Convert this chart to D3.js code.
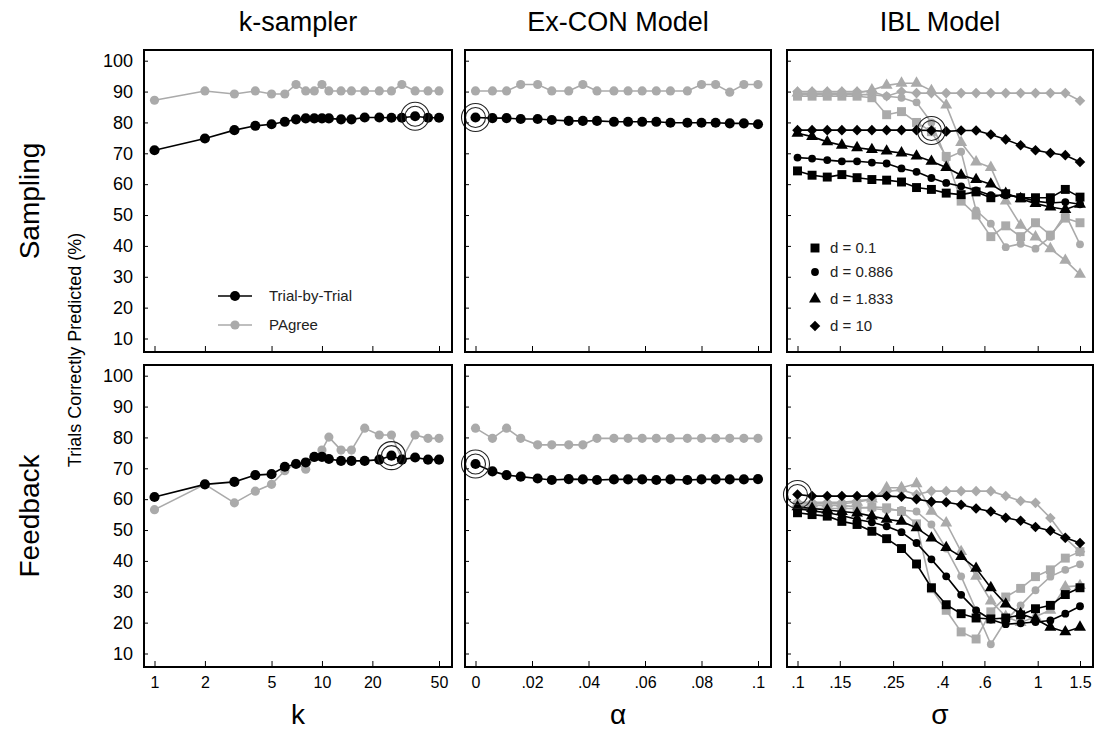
<!DOCTYPE html>
<html>
<head>
<meta charset="utf-8">
<script src="https://cdn.jsdelivr.net/npm/d3@7"></script>
<style>
  body { margin: 0; background: #fff; }
  svg { display: block; font-family: "Liberation Sans", Arial, sans-serif; }
</style>
</head>
<body>
<svg id="chart" width="1103" height="731"></svg>
<script>
// parameter grids (x values of each panel column)
const kValues = [1, 2, 3, 4, 5, 6, 7, 8, 9, 10, 11, 13, 15, 18, 22, 26, 30, 36, 43, 50];
const alphaValues = [0, .006, .011, .016, .022, .027, .033, .038, .043, .049, .054, .059, .064, .069, .075, .080, .085, .090, .095, .100];
const sigmaValues = [0.1, 0.115, 0.133, 0.153, 0.177, 0.204, 0.235, 0.271, 0.313, 0.361, 0.416, 0.48, 0.554, 0.638, 0.736, 0.849, 0.979, 1.129, 1.303, 1.5];

// k-sampler
const kSampTrial  = [71, 74.8, 77.5, 78.9, 79.4, 80.2, 81.0, 81.3, 81.3, 81.3, 81.3, 81.0, 81.0, 81.6, 81.6, 81.5, 81.5, 82.0, 81.5, 81.5];
const kSampPAgree = [87.2, 90.2, 89.2, 90.2, 89.2, 89.2, 92.3, 90.2, 90.2, 92.3, 90.2, 90.2, 90.2, 90.2, 90.2, 90.2, 92.3, 90.2, 90.2, 90.2];
const kFeedTrial  = [60.7, 64.8, 65.6, 67.8, 68.1, 70.5, 71.4, 71.9, 73.7, 73.7, 73.0, 72.4, 72.4, 72.4, 72.8, 74.1, 72.8, 73.5, 72.8, 72.8];
const kFeedPAgree = [56.6, 64.8, 58.8, 62.6, 64.8, 69.2, 71.6, 69.7, 73.5, 75.9, 80.1, 75.9, 75.9, 83.0, 80.8, 80.8, 73.0, 80.8, 79.7, 79.7];

// Ex-CON model
const exSampTrial  = [81.6, 81.4, 81.4, 81.1, 81.1, 80.8, 80.5, 80.5, 80.5, 80.2, 80.2, 80.2, 80.2, 79.9, 79.9, 79.9, 79.9, 79.7, 79.7, 79.4];
const exSampPAgree = [90.2, 90.2, 90.2, 92.3, 92.3, 90.2, 90.2, 92.3, 90.2, 90.2, 90.2, 90.2, 90.2, 90.2, 90.2, 92.3, 92.3, 89.8, 92.3, 92.3];
const exFeedTrial  = [71.4, 69.0, 67.8, 67.3, 66.7, 66.2, 66.5, 66.4, 66.2, 66.4, 66.4, 66.4, 66.2, 66.4, 66.2, 66.4, 66.4, 66.4, 66.4, 66.5];
const exFeedPAgree = [83.0, 79.7, 83.0, 79.7, 77.6, 77.6, 77.6, 77.6, 79.7, 79.7, 79.7, 79.7, 79.7, 79.7, 79.7, 79.7, 79.7, 79.7, 79.7, 79.7];

// IBL model, one series per decay d
const dLabels = ["d = 0.1", "d = 0.886", "d = 1.833", "d = 10"];
const iblSampTrialD01   = [64.3, 62.9, 62.3, 63.1, 62.1, 61.5, 61.3, 60.7, 58.9, 58.3, 57.1, 56.6, 57.5, 55.6, 56.9, 55.6, 55.6, 55.6, 58.3, 55.8];
const iblSampTrialD0886 = [68.6, 68.3, 67.8, 67.4, 67.4, 67.0, 66.7, 65.1, 64.0, 62.0, 60.4, 59.3, 58.0, 56.4, 56.4, 55.8, 54.5, 53.9, 54.2, 53.5];
const iblSampTrialD1833 = [76.5, 75.4, 73.7, 72.6, 71.8, 71.2, 70.7, 70.1, 69.1, 67.4, 65.4, 62.9, 61.5, 60.0, 57.0, 55.3, 53.7, 52.6, 51.8, 53.5];
const iblSampTrialD10   = [77.5, 77.5, 77.5, 77.5, 77.5, 77.5, 77.5, 77.5, 77.5, 77.4, 77.1, 77.4, 77.4, 76.1, 74.5, 72.6, 71.0, 70.1, 69.4, 67.2];
const iblSampPAgreeD01   = [88.5, 88.5, 88.5, 88.5, 88.5, 88, 82.5, 83.5, 80, 77, 69, 54.5, 50, 43, 46.5, 43, 47.5, 43.5, 49, 47.5];
const iblSampPAgreeD0886 = [89, 89, 89, 89, 89, 89, 88.5, 88, 86.5, 80, 68.3, 70.5, 51.5, 47.2, 39.6, 40.7, 39.1, 42.9, 50.4, 40.5];
const iblSampPAgreeD1833 = [89.5, 89.5, 89.5, 89.5, 89.5, 90.5, 92, 92.7, 92.7, 90.3, 85.6, 73.5, 67.2, 65.4, 54.5, 46.7, 42.9, 39.1, 35.3, 30.8];
const iblSampPAgreeD10   = [90, 90, 90, 90, 90, 90, 88.5, 90, 89.5, 89.5, 89.5, 89.5, 89.5, 89.5, 89.5, 89.5, 89.5, 89.5, 89.5, 87];
const iblFeedTrialD01   = [55.6, 55, 54.5, 52.8, 51.8, 49.6, 47.2, 44, 39, 31.3, 25.8, 22.9, 21.5, 21.2, 21.5, 22.5, 24.5, 25.6, 29.1, 31.3];
const iblFeedTrialD0886 = [57, 56.2, 55.6, 54.7, 53.4, 52.5, 51.2, 49.3, 45.8, 40.5, 35, 29, 24, 21, 19.5, 19.8, 20.2, 20.7, 22.9, 25.3];
const iblFeedTrialD1833 = [57.5, 57, 56.5, 56, 55.5, 54.5, 53.5, 52.8, 50.7, 47.4, 44.3, 41.4, 37.6, 31.3, 26, 22.9, 21.2, 18.5, 17, 18.5];
const iblFeedTrialD10   = [61.5, 61, 61, 61, 61, 61, 61, 60.8, 60, 59.2, 59, 58.2, 57, 56, 54, 53, 51, 49.8, 47.5, 45.8];
const iblFeedPAgreeD01   = [57, 57, 57, 57, 57, 57.5, 57.2, 56, 52, 31, 24, 17, 14.7, 23.5, 28.3, 31.1, 34.9, 37.1, 40.9, 43];
const iblFeedPAgreeD0886 = [58, 58, 58, 58, 57.5, 57, 56.5, 56.5, 56, 51.8, 44, 35, 24, 13, 20.7, 25.6, 30.5, 34.9, 37.1, 38.9];
const iblFeedPAgreeD1833 = [58.5, 58.5, 58.5, 58.5, 59, 60, 63.7, 63.7, 65, 56.1, 52.3, 43, 35, 27, 22, 20, 22, 24, 31.6, 32];
const iblFeedPAgreeD10   = [59, 59, 59, 59, 59.5, 60, 62.5, 63, 61.5, 62.6, 62.6, 62.6, 62.6, 62.6, 61, 59.4, 58.8, 53.9, 47.4, 43];

// best fitting parameter (index into the grid) per row, per column
const bestSampIdx = [17, 0, 9];
const bestFeedIdx = [15, 0, 0];

// axes
const yTicks = [10, 20, 30, 40, 50, 60, 70, 80, 90, 100];
const kTicks = [1, 2, 5, 10, 20, 50];
const alphaTicks = [0, .02, .04, .06, .08, .1];
const alphaTickLabels = ["0", ".02", ".04", ".06", ".08", ".1"];
const sigmaTicks = [.1, .15, .25, .4, .6, 1, 1.5];
const sigmaTickLabels = [".1", ".15", ".25", ".4", ".6", "1", "1.5"];
const colTitles = ["k-sampler", "Ex-CON Model", "IBL Model"];
const rowTitles = ["Sampling", "Feedback"];
const xTitles = ["k", "α", "σ"];

const BLACK = "#000", GRAY = "#aaaaaa";

const svg = d3.select("#chart");

const colLeft = [144, 465, 787];
const colWidth = [308, 306, 306];
const rowTop = [50, 365];
const panelH = 302;
const padL = 10.5, padR = 13;

const xScales = [
    d3.scaleLog().domain([1, 50]),
    d3.scaleLinear().domain([0, 0.1]),
    d3.scaleLog().domain([0.1, 1.5])
].map((s, i) => s.range([padL, colWidth[i] - padR]));
const xValues = [kValues, alphaValues, sigmaValues];
const xTickVals = [kTicks, alphaTicks, sigmaTicks];
const xTickFmt = [
    d => String(d),
    (d, i) => alphaTickLabels[i],
    (d, i) => sigmaTickLabels[i]
];

const y = d3.scaleLinear().domain([10, 100]).range([288.5, 10.7]);

const shapes = [d3.symbolSquare, d3.symbolCircle, d3.symbolTriangle, d3.symbolSquare];
const shapeSize = [80, 48, 62, 56];
const shapeRot = [0, 0, 0, 45];

const panels = [
    [
        { gray: [kSampPAgree], black: [kSampTrial], ibl: false },
        { gray: [exSampPAgree], black: [exSampTrial], ibl: false },
        { gray: [iblSampPAgreeD01, iblSampPAgreeD0886, iblSampPAgreeD1833, iblSampPAgreeD10],
          black: [iblSampTrialD01, iblSampTrialD0886, iblSampTrialD1833, iblSampTrialD10], ibl: true }
    ],
    [
        { gray: [kFeedPAgree], black: [kFeedTrial], ibl: false },
        { gray: [exFeedPAgree], black: [exFeedTrial], ibl: false },
        { gray: [iblFeedPAgreeD01, iblFeedPAgreeD0886, iblFeedPAgreeD1833, iblFeedPAgreeD10],
          black: [iblFeedTrialD01, iblFeedTrialD0886, iblFeedTrialD1833, iblFeedTrialD10], ibl: true }
    ]
];

function drawMarkers(g, vals, xs, xv, color, si, ibl) {
    g.selectAll(null)
        .data(vals)
        .enter()
        .append("path")
        .attr("d", ibl ? d3.symbol().type(shapes[si]).size(shapeSize[si])() : d3.symbol().type(d3.symbolCircle).size(color === BLACK ? 80 : 66)())
        .attr("transform", (d, i) => `translate(${xs(xv[i])},${y(d)}) rotate(${ibl ? shapeRot[si] : 0})`)
        .attr("fill", color);
}

panels.forEach((row, r) => {
    row.forEach((p, c) => {
        const xs = xScales[c];
        const xv = xValues[c];
        const w = colWidth[c];
        const g = svg.append("g").attr("transform", `translate(${colLeft[c]},${rowTop[r]})`);

        // axes
        const ya = g.append("g")
            .call(d3.axisLeft(y).tickValues(yTicks).tickSize(-4).tickPadding(11)
                .tickFormat(c === 0 ? d3.format("d") : ""));
        ya.select(".domain").remove();
        ya.selectAll("text").attr("font-size", 18).attr("font-family", "Liberation Sans, Arial, sans-serif");

        const xa = g.append("g")
            .attr("transform", `translate(0,${panelH})`)
            .call(d3.axisBottom(xs).tickValues(xTickVals[c]).tickSize(-6).tickPadding(10)
                .tickFormat(r === 1 ? xTickFmt[c] : ""));
        xa.select(".domain").remove();
        xa.selectAll("text").attr("font-size", 16).attr("font-family", "Liberation Sans, Arial, sans-serif");

        const line = d3.line().x((d, i) => xs(xv[i])).y(d => y(d));

        // PAgree (gray) underneath, trial-by-trial (black) on top
        p.gray.forEach((vals, si) => {
            g.append("path").datum(vals).attr("d", line)
                .attr("fill", "none").attr("stroke", GRAY).attr("stroke-width", 1.6);
            drawMarkers(g, vals, xs, xv, GRAY, si, p.ibl);
        });
        p.black.forEach((vals, si) => {
            g.append("path").datum(vals).attr("d", line)
                .attr("fill", "none").attr("stroke", BLACK).attr("stroke-width", 1.6);
            drawMarkers(g, vals, xs, xv, BLACK, si, p.ibl);
        });

        // best fitting parameter ring
        const bi = (r === 0 ? bestSampIdx : bestFeedIdx)[c];
        const bestSeries = p.black[p.black.length - 1];
        [10, 14].forEach(rad => {
            g.append("circle")
                .attr("cx", xs(xv[bi])).attr("cy", y(bestSeries[bi])).attr("r", rad)
                .attr("fill", "none").attr("stroke", "#222").attr("stroke-width", 1.1);
        });

        // frame
        g.append("rect").attr("width", w).attr("height", panelH)
            .attr("fill", "none").attr("stroke", "#000").attr("stroke-width", 2);
    });
});

// legend, k-sampler panel
const lg = svg.append("g").attr("transform", `translate(${colLeft[0]},${rowTop[0]})`);
[["Trial-by-Trial", BLACK, 246], ["PAgree", GRAY, 275]].forEach(([label, color, ly]) => {
    lg.append("line").attr("x1", 74).attr("x2", 108).attr("y1", ly).attr("y2", ly)
        .attr("stroke", color).attr("stroke-width", 1.6);
    lg.append("circle").attr("cx", 91).attr("cy", ly).attr("r", color === BLACK ? 5 : 4.6).attr("fill", color);
    lg.append("text").attr("x", 125).attr("y", ly).attr("dy", "0.35em")
        .attr("font-size", 15).attr("fill", "#222").text(label);
});

// legend, IBL panel
const lg2 = svg.append("g").attr("transform", `translate(${colLeft[2]},${rowTop[0]})`);
[198, 222, 249, 276].forEach((ly, si) => {
    lg2.append("path")
        .attr("d", d3.symbol().type(shapes[si]).size(shapeSize[si])())
        .attr("transform", `translate(28,${ly}) rotate(${shapeRot[si]})`)
        .attr("fill", BLACK);
    lg2.append("text").attr("x", 43).attr("y", ly).attr("dy", "0.35em")
        .attr("font-size", 15).attr("fill", "#222").text(dLabels[si]);
});

// titles
colTitles.forEach((t, c) => {
    svg.append("text").attr("x", colLeft[c] + colWidth[c] / 2).attr("y", 31)
        .attr("text-anchor", "middle").attr("font-size", 27).text(t);
    svg.append("text").attr("x", colLeft[c] + colWidth[c] / 2).attr("y", 724)
        .attr("text-anchor", "middle").attr("font-size", 28).text(xTitles[c]);
});
rowTitles.forEach((t, r) => {
    svg.append("text")
        .attr("transform", `translate(39,${rowTop[r] + panelH / 2}) rotate(-90)`)
        .attr("text-anchor", "middle").attr("font-size", 28).text(t);
});
svg.append("text")
    .attr("transform", "translate(81,350) rotate(-90)")
    .attr("text-anchor", "middle").attr("font-size", 18).text("Trials Correctly Predicted (%)");
</script>
</body>
</html>
